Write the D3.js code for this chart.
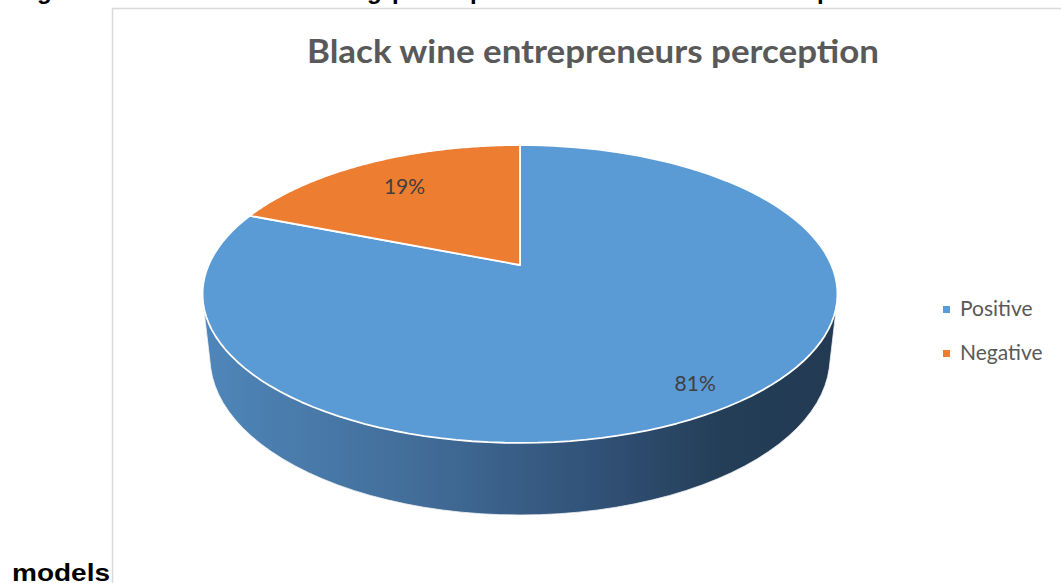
<!DOCTYPE html>
<html>
<head>
<style>
html, body {
    margin: 0;
    padding: 0;
    background: #fff;
    overflow: hidden;
}
svg text { font-family: Lato, "Open Sans", sans-serif; }
</style>
</head>
<body>
<script src="https://d3js.org/d3.v7.min.js"></script>
<script>
// chart data
const categories = ["Positive", "Negative"];
const values = [81, 19];
const colors = ["#5b9bd5", "#ed7d31"];
const title = "Black wine entrepreneurs perception";

const [width, height] = [1061, 583];

const svg = d3.select("body").append("svg")
    .attr("width", width)
    .attr("height", height);

// bits of the surrounding document that show around the chart
const cutGlyphs = [["g", 37], ["g", 367], ["p", 392], ["p", 470], ["p", 817]];
svg.append("g")
    .selectAll("text")
    .data(cutGlyphs)
    .join("text")
        .attr("x", d => d[1])
        .attr("y", -1)
        .style("font-family", "'Liberation Sans', Arial, sans-serif")
        .style("font-weight", "bold")
        .style("font-size", "24px")
        .attr("fill", "#000")
        .text(d => d[0]);

svg.append("text")
    .attr("x", 12)
    .attr("y", 581)
    .attr("textLength", 98)
    .attr("lengthAdjust", "spacingAndGlyphs")
    .style("font-family", "'Liberation Sans', Arial, sans-serif")
    .style("font-weight", "bold")
    .style("font-size", "24px")
    .attr("fill", "#000")
    .text("models");

// chart frame (runs off the right and bottom of the page)
svg.append("path")
    .attr("d", `M112.5,${height + 5}V8.5H${width + 5}`)
    .attr("fill", "none")
    .attr("stroke", "#d9d9d9")
    .attr("stroke-width", 1.5);

svg.append("text")
    .attr("x", 593)
    .attr("y", 63)
    .attr("text-anchor", "middle")
    .attr("textLength", 572)
    .attr("lengthAdjust", "spacingAndGlyphs")
    .style("font-weight", "bold")
    .style("font-size", "32px")
    .attr("fill", "#595959")
    .text(title);

// 3d pie: unit disk seen in perspective
const cx = 520, cy = 265;
const tilt = 27.4 * Math.PI / 180;
const [sa, ca] = [Math.sin(tilt), Math.cos(tilt)];
const dist = 4.561, focal = 1420.3, depth = 0.231;

const project = (theta, r = 1, h = 0) => {
    const u = r * Math.sin(theta);
    const v = -r * Math.cos(theta);
    const yc = v * sa - h * ca;
    const zc = v * ca + h * sa;
    const k = focal / (dist - zc);
    return [cx + u * k, cy + yc * k];
};

const pie = d3.pie().sort(null).value(d => d)(values);
const total = d3.sum(values);

const rim = (a0, a1, h) => d3.range(0, 121).map(i => project(a0 + (a1 - a0) * i / 120, 1, h));

// side wall: hull of top and bottom rims
const allPts = rim(0, 2 * Math.PI, 0).concat(rim(0, 2 * Math.PI, -depth));
const hull = d3.polygonHull(allPts);
const xExt = d3.extent(hull, p => p[0]);

const defs = svg.append("defs");
const grad = defs.append("linearGradient")
    .attr("id", "side")
    .attr("gradientUnits", "userSpaceOnUse")
    .attr("x1", xExt[0]).attr("x2", xExt[1])
    .attr("y1", 0).attr("y2", 0);
[[0, "#4f86ba"], [0.35, "#416c97"], [0.6, "#32537a"], [0.82, "#243e57"], [1, "#223a52"]]
    .forEach(([o, c]) => grad.append("stop").attr("offset", o).attr("stop-color", c));

const line = d3.line();

svg.append("path")
    .attr("d", line(hull) + "Z")
    .attr("fill", "url(#side)")
    .attr("stroke", "#f2f5f8")
    .attr("stroke-width", 0.8);

// top face slices
svg.append("g")
    .selectAll("path")
    .data(pie)
    .join("path")
        .attr("d", d => line([project(0, 0)].concat(rim(d.startAngle, d.endAngle, 0))) + "Z")
        .attr("fill", (d, i) => colors[i])
        .attr("stroke", "#fff")
        .attr("stroke-width", 1.8)
        .attr("stroke-linejoin", "round");

// data labels
svg.append("g")
    .selectAll("text")
    .data(pie)
    .join("text")
        .each(function(d) {
            const mid = (d.startAngle + d.endAngle) / 2;
            const r = 0.7 + 0.2 * d.value / total;
            const [x, y] = project(mid, r);
            d3.select(this).attr("x", x).attr("y", y + 7);
        })
        .attr("text-anchor", "middle")
        .style("font-size", "21px")
        .attr("fill", "#404040")
        .text(d => Math.round(d.value / total * 100) + "%");

// legend
const legend = svg.append("g")
    .selectAll("g")
    .data(categories)
    .join("g")
        .attr("transform", (d, i) => `translate(943,${306 + i * 44})`);

legend.append("rect")
    .attr("width", 7)
    .attr("height", 7)
    .attr("fill", (d, i) => colors[i]);

legend.append("text")
    .attr("x", 17)
    .attr("y", 10)
    .style("font-size", "21px")
    .attr("fill", "#595959")
    .text(d => d);
</script>
</body>
</html>
